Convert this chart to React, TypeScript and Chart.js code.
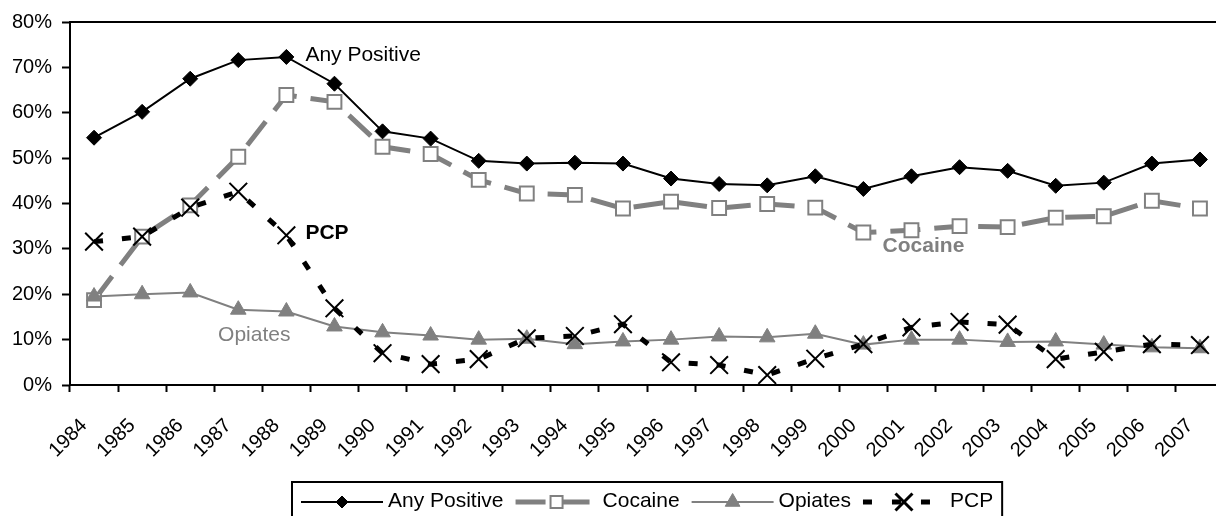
import React, { useEffect, useRef } from "react";
import { Chart, registerables } from "chart.js";

Chart.register(...registerables);

const FONT = '"Liberation Sans", Arial, Helvetica, sans-serif';
const GREY = "#808080";

const years = [
  "1984", "1985", "1986", "1987", "1988", "1989", "1990", "1991", "1992", "1993", "1994", "1995",
  "1996", "1997", "1998", "1999", "2000", "2001", "2002", "2003", "2004", "2005", "2006", "2007",
];

const anyPositive = [
  54.5, 60.2, 67.5, 71.6, 72.3, 66.4, 55.9, 54.3, 49.4, 48.8, 49.0, 48.8,
  45.5, 44.3, 44.0, 46.0, 43.2, 46.0, 48.0, 47.2, 43.9, 44.6, 48.8, 49.7,
];

const cocaine = [
  18.7, 32.7, 39.6, 50.3, 63.9, 62.4, 52.5, 50.9, 45.2, 42.2, 41.9, 38.9,
  40.4, 39.0, 39.9, 39.1, 33.6, 34.1, 35.0, 34.8, 36.9, 37.2, 40.6, 38.9,
];

const opiates = [
  19.5, 20.0, 20.4, 16.6, 16.2, 12.9, 11.6, 10.9, 10.0, 10.2, 9.0, 9.6,
  10.0, 10.7, 10.5, 11.3, 8.9, 10.0, 10.0, 9.5, 9.6, 8.9, 8.3, 8.1,
];

const pcp = [
  31.6, 32.7, 39.1, 42.6, 33.0, 16.9, 7.0, 4.6, 5.7, 10.3, 10.8, 13.4,
  5.0, 4.4, 2.2, 5.8, 9.0, 12.7, 13.9, 13.3, 5.7, 7.3, 9.0, 8.8,
];

const yTicks = [0, 10, 20, 30, 40, 50, 60, 70, 80];

const seriesNames = ["Any Positive", "Cocaine", "Opiates", "PCP"];

// Series styles (kept separate from the data)
const styles = [
  { color: "#000000", width: 2, dash: [] as number[], marker: "rectRot", radius: 7.5, legendRadius: 6, fill: "#000000", mBorder: 1 },
  { color: GREY, width: 5, dash: [30, 14], marker: "rect", radius: 9.8, legendRadius: 8.5, fill: "#ffffff", mBorder: 2 },
  { color: GREY, width: 2, dash: [] as number[], marker: "triangle", radius: 9, legendRadius: 8.5, fill: GREY, mBorder: 1 },
  { color: "#000000", width: 5, dash: [9, 19], marker: "crossRot", radius: 12.5, legendRadius: 12, fill: "#000000", mBorder: 2 },
];

// In-chart labels, anchored to category / value
const annotations = [
  { text: "Any Positive", cat: 4, value: anyPositive[4], dx: 19, dy: -2, align: "left", bold: false, color: "#000" },
  { text: "PCP", cat: 4, value: pcp[4], dx: 19, dy: -2, align: "left", bold: true, color: "#000" },
  { text: "Opiates", cat: 3, value: 11.0, dx: 16, dy: 0, align: "center", bold: false, color: GREY },
  { text: "Cocaine", cat: 17, value: 30.6, dx: 12, dy: 0, align: "center", bold: true, color: GREY },
];

function drawMarker(ctx: CanvasRenderingContext2D, kind: string, x: number, y: number, r: number, s: any) {
  ctx.save();
  ctx.beginPath();
  ctx.lineWidth = s.mBorder;
  ctx.strokeStyle = s.color;
  ctx.fillStyle = s.fill;
  if (kind === "rectRot") {
    ctx.moveTo(x - r, y);
    ctx.lineTo(x, y - r);
    ctx.lineTo(x + r, y);
    ctx.lineTo(x, y + r);
    ctx.closePath();
    ctx.fill();
    ctx.stroke();
  } else if (kind === "rect") {
    const h = Math.SQRT1_2 * r;
    ctx.rect(x - h, y - h, 2 * h, 2 * h);
    ctx.fill();
    ctx.stroke();
  } else if (kind === "triangle") {
    for (let i = 0; i < 3; i++) {
      const a = (i * 2 * Math.PI) / 3;
      const px = x + Math.sin(a) * r;
      const py = y - Math.cos(a) * r;
      if (i === 0) ctx.moveTo(px, py);
      else ctx.lineTo(px, py);
    }
    ctx.closePath();
    ctx.fill();
    ctx.stroke();
  } else if (kind === "crossRot") {
    const h = Math.SQRT1_2 * r;
    ctx.lineWidth = 3;
    ctx.moveTo(x - h, y - h);
    ctx.lineTo(x + h, y + h);
    ctx.moveTo(x + h, y - h);
    ctx.lineTo(x - h, y + h);
    ctx.stroke();
  }
  ctx.restore();
}

const decorPlugin = {
  id: "decor",
  afterDraw(chart: any) {
    const ctx: CanvasRenderingContext2D = chart.ctx;
    const area = chart.chartArea;
    const xs = chart.scales.x;
    const ys = chart.scales.y;

    // top border of plot area
    ctx.save();
    ctx.strokeStyle = "#000";
    ctx.lineWidth = 2;
    ctx.beginPath();
    ctx.moveTo(area.left - 1, area.top);
    ctx.lineTo(area.right, area.top);
    ctx.stroke();
    ctx.restore();

    // annotations
    ctx.save();
    ctx.textBaseline = "middle";
    for (const a of annotations) {
      ctx.font = `${a.bold ? "bold " : ""}21px ${FONT}`;
      ctx.fillStyle = a.color;
      ctx.textAlign = a.align as CanvasTextAlign;
      const x = xs.getPixelForValue(a.cat) + a.dx;
      const y = ys.getPixelForValue(a.value) + a.dy;
      ctx.fillText(a.text, x, y);
    }
    ctx.restore();

    // legend
    ctx.save();
    ctx.font = `21px ${FONT}`;
    const lineLen = 82;
    const gapText = 5;
    const gapItem = 12;
    const pad = 9;
    const widths = seriesNames.map((n) => lineLen + gapText + ctx.measureText(n).width);
    const total = widths.reduce((s, w) => s + w, 0) + gapItem * (seriesNames.length - 1) + 2 * pad;
    const cx = (area.left + area.right) / 2;
    const x0 = Math.round(cx - total / 2);
    const top = 482;
    ctx.strokeStyle = "#000";
    ctx.lineWidth = 2;
    ctx.strokeRect(x0, top, total, 60);
    let x = x0 + pad;
    const ly = 502;
    seriesNames.forEach((name, i) => {
      const s = styles[i];
      ctx.save();
      ctx.strokeStyle = s.color;
      ctx.lineWidth = s.width;
      ctx.setLineDash(i === 3 ? [9, 20] : s.dash);
      ctx.beginPath();
      ctx.moveTo(x, ly);
      ctx.lineTo(x + lineLen, ly);
      ctx.stroke();
      ctx.restore();
      drawMarker(ctx, s.marker, x + lineLen / 2, ly, s.legendRadius, s);
      ctx.fillStyle = "#000";
      ctx.textAlign = "left";
      ctx.textBaseline = "middle";
      ctx.fillText(name, x + lineLen + gapText, ly - 1);
      x += widths[i] + gapItem;
    });
    ctx.restore();
  },
};

export default function App() {
  const ref = useRef<HTMLCanvasElement>(null);

  useEffect(() => {
    document.documentElement.style.overflow = "hidden";
    document.body.style.overflow = "hidden";
    const seriesData = [anyPositive, cocaine, opiates, pcp];
    const orders = [2, 3, 1, 0];
    const chart = new Chart(ref.current!, {
      type: "line",
      data: {
        labels: years,
        datasets: seriesNames.map((name, i) => ({
          label: name,
          data: seriesData[i],
          order: orders[i],
          borderColor: styles[i].color,
          borderWidth: styles[i].width,
          borderDash: styles[i].dash,
          borderCapStyle: "butt",
          tension: 0,
          fill: false,
          pointStyle: styles[i].marker,
          pointRadius: styles[i].radius,
          pointBackgroundColor: styles[i].fill,
          pointBorderColor: styles[i].color,
          pointBorderWidth: styles[i].mBorder,
          pointHoverRadius: styles[i].radius,
        })),
      },
      options: {
        responsive: false,
        devicePixelRatio: 1,
        animation: false,
        layout: { padding: { left: 0, right: 16, top: 22, bottom: 0 } },
        plugins: { legend: { display: false }, tooltip: { enabled: false } },
        events: [],
        scales: {
          x: {
            type: "category",
            offset: true,
            grid: {
              offset: true,
              drawOnChartArea: false,
              drawTicks: true,
              tickLength: 7,
              tickColor: "#000",
              tickWidth: 2,
              color: "#000",
            },
            border: { color: "#000", width: 2 },
            ticks: {
              color: "#000",
              font: { family: FONT, size: 20 },
              minRotation: 45,
              maxRotation: 45,
              autoSkip: false,
              padding: 22,
              labelOffset: -10,
            },
            afterFit: (scale: any) => {
              scale.height = 131;
            },
          },
          y: {
            min: 0,
            max: 80,
            afterBuildTicks: (scale: any) => {
              scale.ticks = yTicks.map((v) => ({ value: v }));
            },
            grid: {
              drawOnChartArea: false,
              drawTicks: true,
              tickLength: 8,
              tickColor: "#000",
              tickWidth: 2,
              color: "#000",
            },
            border: { color: "#000", width: 2 },
            ticks: {
              color: "#000",
              font: { family: FONT, size: 20 },
              padding: 10,
              callback: (v: any) => `${v}%`,
            },
            afterFit: (scale: any) => {
              scale.width = 70;
            },
          },
        },
      },
      plugins: [decorPlugin],
    } as any);
    return () => chart.destroy();
  }, []);

  return (
    <div style={{ position: "fixed", left: 0, top: 0, width: 1240, height: 516, overflow: "hidden" }}>
      <canvas ref={ref} width={1240} height={516} style={{ display: "block" }} />
    </div>
  );
}
